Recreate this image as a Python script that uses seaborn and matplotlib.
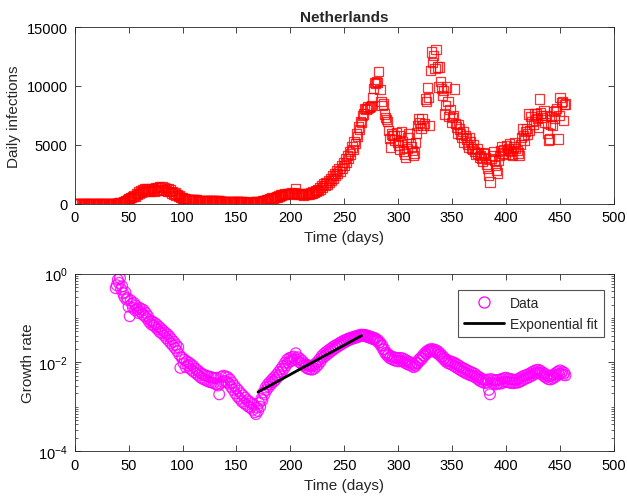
import numpy as np
import pandas as pd
import matplotlib
matplotlib.use("Agg")
import matplotlib.pyplot as plt
import seaborn as sns
from matplotlib.ticker import FixedLocator, NullFormatter, LogLocator
from matplotlib.lines import Line2D

country = "Netherlands"

# Daily new infections, one value per day starting at day 0
daily_cases = [
    0, 0, 0, 0, 0, 0, 0, 0, 0, 0,
    0, 0, 0, 0, 0, 0, 0, 0, 0, 0,
    0, 0, 0, 0, 0, 0, 0, 0, 0, 0,
    0, 0, 0, 0, 0, 1, 2, 5, 10, 18,
    25, 40, 55, 80, 110, 150, 190, 230, 280, 330,
    380, 420, 480, 530, 600, 700, 620, 850, 760, 980,
    880, 1100, 950, 1200, 1000, 1250, 1050, 1300, 1100, 1200,
    1050, 1300, 1120, 1250, 1000, 1350, 1150, 1380, 1100, 1400,
    1200, 1420, 1150, 1350, 1100, 1300, 1050, 1250, 1000, 1150,
    900, 1050, 800, 900, 700, 780, 600, 650, 520, 540,
    460, 430, 400, 380, 360, 350, 340, 330, 320, 310,
    300, 300, 290, 290, 280, 280, 270, 270, 260, 260,
    250, 250, 250, 240, 240, 240, 230, 230, 230, 220,
    220, 220, 210, 210, 210, 200, 200, 200, 200, 190,
    190, 190, 180, 180, 180, 170, 170, 160, 160, 160,
    150, 150, 140, 140, 130, 130, 120, 120, 110, 110,
    100, 100, 100, 100, 100, 110, 110, 120, 130, 140,
    150, 160, 170, 190, 210, 230, 250, 270, 300, 330,
    360, 420, 400, 480, 450, 540, 500, 600, 560, 660,
    620, 720, 680, 780, 740, 820, 780, 860, 820, 880,
    840, 900, 860, 820, 900, 1270, 800, 860, 760, 820,
    740, 800, 720, 780, 740, 820, 760, 840, 800, 900,
    880, 980, 920, 1100, 1000, 1200, 1100, 1350, 1200, 1500,
    1350, 1650, 1500, 1800, 1650, 1950, 1800, 2150, 1950, 2350,
    2150, 2550, 2350, 2800, 2550, 3000, 2750, 3250, 3000, 3500,
    3250, 3800, 3500, 4100, 3800, 4400, 4200, 4800, 4600, 5300,
    5100, 5900, 5700, 6500, 6300, 7000, 6900, 7500, 7600, 8100,
    8000, 8100, 8200, 8150, 8250, 8300, 9000, 9800, 10300, 10200,
    10400, 10300, 11200, 9700, 8700, 8300, 8450, 7600, 7300, 7170,
    7000, 6200, 5500, 4800, 5900, 5760, 5800, 5400, 6000, 5200,
    4900, 4600, 5800, 6100, 5300, 4400, 4200, 3950, 4700, 5600,
    5900, 5100, 4800, 4500, 4060, 4300, 5200, 6000, 6600, 7180,
    6900, 6400, 7200, 6600, 6800, 8880, 8700, 9880, 9000, 6600,
    11300, 12870, 12000, 12600, 11500, 13070, 11600, 9900, 11600, 10400,
    9800, 9200, 9600, 7600, 8300, 9900, 8700, 7400, 8000, 6900,
    7300, 7480, 9730, 6800, 6500, 6000, 6700, 6330, 5900, 5600,
    6100, 5200, 5800, 5480, 5000, 4800, 5600, 5300, 4700, 4630,
    5000, 4400, 4200, 4700, 4300, 3950, 4100, 3800, 3600, 4300,
    4200, 3900, 3300, 3000, 2360, 1830, 3800, 4100, 4400, 3700,
    3200, 2790, 2600, 3640, 4100, 4500, 4800, 4300, 4600, 4200,
    4910, 4500, 4700, 5100, 4400, 4200, 4060, 4800, 5200, 4700,
    4500, 4300, 4060, 5000, 5600, 6330, 5800, 5400, 6100, 6400,
    5900, 7610, 6200, 7400, 7000, 6700, 7600, 7100, 7610, 7200,
    6500, 8880, 7700, 7500, 7300, 7900, 6900, 7500, 6000, 5400,
    5480, 6700, 7400, 6610, 7800, 7200, 7890, 8100, 5480, 7500,
    9030, 8600, 8700, 7030, 8400, 8460,
]

# Growth rate, one value per day starting at day 38
rate_start_day = 38
growth_rate = [
    0.47, 0.55,
    0.73, 0.62, 0.80, 0.45, 0.52, 0.36, 0.30, 0.38, 0.26, 0.28,
    0.18, 0.11, 0.25, 0.21, 0.17, 0.22, 0.15, 0.19, 0.16, 0.13,
    0.17, 0.14, 0.16, 0.12, 0.15, 0.11, 0.13, 0.098, 0.11, 0.082,
    0.090, 0.072, 0.083, 0.068, 0.078, 0.062, 0.072, 0.055, 0.064, 0.048,
    0.058, 0.045, 0.052, 0.040, 0.047, 0.035, 0.043, 0.031, 0.038, 0.027,
    0.033, 0.024, 0.029, 0.021, 0.025, 0.018, 0.022, 0.015, 0.0075, 0.013,
    0.0125, 0.0095, 0.0115, 0.0078, 0.0105, 0.0085, 0.0098, 0.0072, 0.0090, 0.0065,
    0.0082, 0.0060, 0.0072, 0.0055, 0.0066, 0.0050, 0.0060, 0.0045, 0.0055, 0.0042,
    0.0052, 0.0040, 0.0050, 0.0038, 0.0048, 0.0036, 0.0047, 0.0035, 0.0045, 0.0034,
    0.0044, 0.0032, 0.0045, 0.0030, 0.0019, 0.0033, 0.0047, 0.0036, 0.0050, 0.0038,
    0.0048, 0.0036, 0.0046, 0.0033, 0.0041, 0.0028, 0.0035, 0.0024, 0.0030, 0.0020,
    0.0026, 0.0017, 0.0023, 0.0015, 0.0020, 0.0013, 0.0018, 0.0012, 0.0016, 0.0011,
    0.0014, 0.0010, 0.0013, 0.00095, 0.0012, 0.00085, 0.0011, 0.00075, 0.00068, 0.00095,
    0.0008, 0.0012, 0.0010, 0.0015, 0.0014, 0.0021, 0.0019, 0.0027, 0.0024, 0.0032,
    0.0028, 0.0036, 0.0032, 0.0041, 0.0036, 0.0046, 0.0040, 0.0052, 0.0046, 0.0060,
    0.0052, 0.0070, 0.0062, 0.0082, 0.0072, 0.0098, 0.0085, 0.0115, 0.0098, 0.0125,
    0.0105, 0.0130, 0.0112, 0.0135, 0.0118, 0.0160, 0.0115, 0.0130, 0.0102, 0.0120,
    0.0095, 0.0108, 0.0085, 0.0095, 0.0078, 0.0088, 0.0072, 0.0085, 0.0070, 0.0082,
    0.0068, 0.0085, 0.0072, 0.0092, 0.0080, 0.0102, 0.0090, 0.0118, 0.0105, 0.0138,
    0.0125, 0.0155, 0.0138, 0.0170, 0.0150, 0.0185, 0.0165, 0.0200, 0.0180, 0.0218,
    0.0195, 0.0235, 0.0210, 0.0250, 0.0228, 0.0265, 0.0245, 0.0285, 0.0262, 0.0305,
    0.0280, 0.0320, 0.0298, 0.0338, 0.0315, 0.0352, 0.0330, 0.0365, 0.0345, 0.0378,
    0.0355, 0.0392, 0.0370, 0.0405, 0.0385, 0.0420, 0.0400, 0.0420, 0.0395, 0.0415,
    0.0385, 0.0405, 0.0370, 0.0390, 0.0355, 0.0375, 0.0340, 0.0360, 0.0325, 0.0345,
    0.0310, 0.0320, 0.0275, 0.0285, 0.0235, 0.0245, 0.0195, 0.0200, 0.0160, 0.0165,
    0.0140, 0.0150, 0.0125, 0.0138, 0.0118, 0.0132, 0.0112, 0.0128, 0.0108, 0.0125,
    0.0105, 0.0126, 0.0110, 0.0125, 0.0105, 0.0120, 0.0098, 0.0112, 0.0092, 0.0105,
    0.0088, 0.0100, 0.0084, 0.0094, 0.0078, 0.0088, 0.0082, 0.0098, 0.0095, 0.0115,
    0.0108, 0.0128, 0.0120, 0.0145, 0.0138, 0.0165, 0.0155, 0.0182, 0.0170, 0.0195,
    0.0178, 0.0200, 0.0180, 0.0195, 0.0172, 0.0188, 0.0162, 0.0175, 0.0148, 0.0158,
    0.0132, 0.0140, 0.0118, 0.0125, 0.0105, 0.0112, 0.0096, 0.0108, 0.0092, 0.0104,
    0.0088, 0.0100, 0.0082, 0.0094, 0.0076, 0.0088, 0.0071, 0.0082, 0.0066, 0.0076,
    0.0062, 0.0072, 0.0058, 0.0068, 0.0055, 0.0064, 0.0052, 0.0061, 0.0050, 0.0058,
    0.0048, 0.0055, 0.0045, 0.0050, 0.0041, 0.0046, 0.0038, 0.0043, 0.0036, 0.0041,
    0.0034, 0.0040, 0.0035, 0.0041, 0.0024, 0.0019, 0.0042, 0.0034, 0.0040, 0.0033,
    0.0039, 0.0032, 0.0040, 0.0034, 0.0041, 0.0033, 0.0042, 0.0035, 0.0044, 0.0037,
    0.0045, 0.0036, 0.0043, 0.0035, 0.0042, 0.0034, 0.0041, 0.0034, 0.0040, 0.0035,
    0.0041, 0.0035, 0.0043, 0.0037, 0.0046, 0.0039, 0.0049, 0.0042, 0.0051, 0.0044,
    0.0053, 0.0046, 0.0056, 0.0049, 0.0060, 0.0052, 0.0064, 0.0056, 0.0067, 0.0059,
    0.0068, 0.0058, 0.0064, 0.0053, 0.0059, 0.0049, 0.0055, 0.0045, 0.0051, 0.0042,
    0.0048, 0.0041, 0.0050, 0.0043, 0.0053, 0.0046, 0.0057, 0.0050, 0.0062, 0.0054,
    0.0066, 0.0056, 0.0062, 0.0052, 0.0058, 0.0051,
]

# Exponential fit over the rising phase (straight line on a log axis)
fit_days = [170, 266]
fit_rate = [0.00214, 0.040]

x_ticks = [0, 50, 100, 150, 200, 250, 300, 350, 400, 450, 500]
top_y_ticks = [0, 5000, 10000, 15000]
log_y_ticks = [1e-4, 1e-2, 1e0]

cases_df = pd.DataFrame({"day": np.arange(len(daily_cases)), "cases": daily_cases})
rate_df = pd.DataFrame({"day": np.arange(rate_start_day, rate_start_day + len(growth_rate)),
                        "rate": growth_rate})
fit_df = pd.DataFrame({"day": fit_days, "rate": fit_rate})

sns.set_style("ticks")
plt.rcParams["font.family"] = ["Liberation Sans", "DejaVu Sans"]
plt.rcParams["mathtext.fontset"] = "custom"
plt.rcParams["mathtext.rm"] = "Liberation Sans"
plt.rcParams["mathtext.it"] = "Liberation Sans:italic"
plt.rcParams["mathtext.bf"] = "Liberation Sans:bold"

axis_col = "#262626"
fs_tick = 10.5
fs_label = 11

fig = plt.figure(figsize=(6.27, 5.02), dpi=100)
ax1 = fig.add_axes([0.1191, 0.5926, 0.8602, 0.3516])
ax2 = fig.add_axes([0.1191, 0.0996, 0.8602, 0.3532])

# --- top panel: daily infections ---
sns.scatterplot(data=cases_df, x="day", y="cases", ax=ax1, marker="s", s=44,
                legend=False)
coll = ax1.collections[-1]
coll.set_facecolor("none")
coll.set_edgecolor((1, 0, 0, 0.8))
coll.set_linewidth(0.9)

ax1.set_xlim(0, 500)
ax1.set_ylim(0, 15000)
ax1.set_xticks(x_ticks)
ax1.set_yticks(top_y_ticks)
ax1.set_xlabel("Time (days)", fontsize=fs_label, labelpad=4)
ax1.set_ylabel("Daily infections", fontsize=fs_label, labelpad=4)
ax1.set_title(country, fontsize=fs_label, fontweight="bold", pad=4)

# --- bottom panel: growth rate ---
sns.scatterplot(data=rate_df, x="day", y="rate", ax=ax2, marker="o", s=60,
                legend=False)
coll2 = ax2.collections[-1]
coll2.set_facecolor("none")
coll2.set_edgecolor((1, 0, 1, 0.85))
coll2.set_linewidth(0.9)

sns.lineplot(data=fit_df, x="day", y="rate", ax=ax2, color="black",
             linewidth=2, legend=False)

ax2.set_yscale("log")
ax2.set_xlim(0, 500)
ax2.set_ylim(1e-4, 1e0)
ax2.set_xticks(x_ticks)
ax2.yaxis.set_major_locator(FixedLocator(log_y_ticks))
ax2.yaxis.set_minor_locator(LogLocator(base=10, subs=np.arange(1, 10), numticks=20))
ax2.yaxis.set_minor_formatter(NullFormatter())
ax2.set_xlabel("Time (days)", fontsize=fs_label, labelpad=4)
ax2.set_ylabel("Growth rate", fontsize=fs_label, labelpad=2)

handles = [
    Line2D([], [], linestyle="none", marker="o", markersize=8,
           markerfacecolor="none", markeredgecolor="magenta", markeredgewidth=0.9),
    Line2D([], [], color="black", linewidth=2),
]
leg = ax2.legend(handles, ["Data", "Exponential fit"], loc="upper right",
                 bbox_to_anchor=(0.9805, 0.9075), fontsize=10, frameon=True,
                 fancybox=False, handlelength=2.9, handletextpad=0.4,
                 borderpad=0.45, labelspacing=0.45, borderaxespad=0)
leg.get_frame().set_edgecolor(axis_col)
leg.get_frame().set_linewidth(0.8)

for ax in (ax1, ax2):
    for sp in ax.spines.values():
        sp.set_visible(True)
        sp.set_color(axis_col)
        sp.set_linewidth(0.6)
    ax.tick_params(which="major", direction="in", length=4.5, width=0.6,
                   top=True, right=True, colors=axis_col, labelcolor="black",
                   labelsize=fs_tick, pad=5)
    ax.tick_params(which="minor", direction="in", length=2.5, width=0.5,
                   top=False, right=True, colors=axis_col)
    ax.xaxis.set_minor_locator(FixedLocator([]))
    ax.grid(False)

fig.savefig("out.png", dpi=100)
